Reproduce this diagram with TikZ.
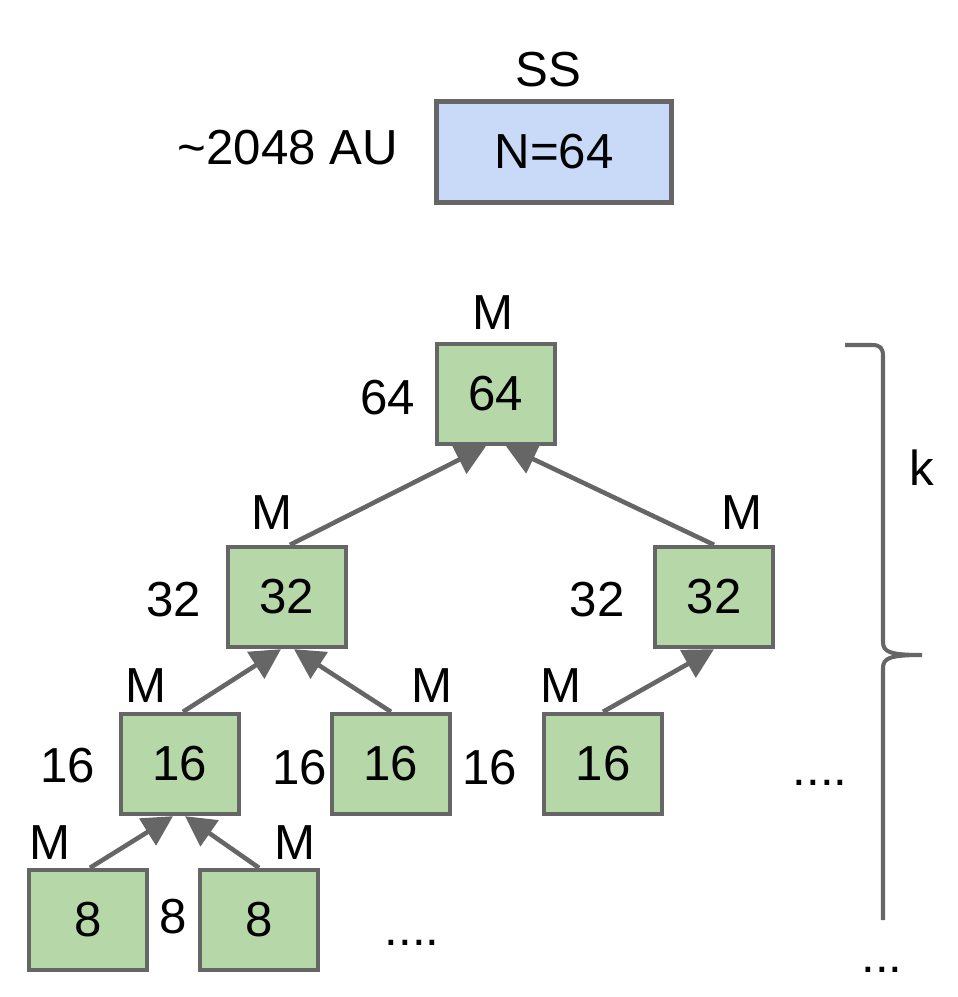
\documentclass[tikz,border=0pt]{standalone}
\usepackage{fontspec}
\setmainfont{Liberation Sans}
\usetikzlibrary{arrows.meta,positioning}
\definecolor{boxgreen}{HTML}{B6D7A8}
\definecolor{boxblue}{HTML}{C9DAF8}
\definecolor{edgegray}{HTML}{666666}

\begin{document}
\begin{tikzpicture}[
    x=0.02cm, y=-0.02cm,
    every node/.style={font=\fontsize{28}{33}\selectfont},
    mbox/.style={draw=edgegray, line width=2.5pt, fill=boxgreen,
        minimum width=2.36cm, minimum height=2cm, inner sep=0pt},
    up/.style={draw=edgegray, line width=2.6pt,
        -{Triangle[length=0.6cm,width=0.62cm]}}
]
    \useasboundingbox (0,0) rectangle (957,997);

    % SS box on top
    \node[draw=edgegray, line width=2.5pt, fill=boxblue, minimum width=4.7cm,
        minimum height=2.02cm, inner sep=0pt] (ss) at (554,152) {N=64};
    \node (sslab) at (548,70) {SS};
    \node (au) at (288,148) {\char`~2048 AU};

    % merge tree, one row per level
    \node[mbox] (m64) at (496,394) {64};
    \node[mbox] (m32a) at (287,597) {32};
    \node[mbox] (m32b) at (714,597) {32};
    \node[mbox] (m16a) at (180,764) {16};
    \node[mbox] (m16b) at (391,764) {16};
    \node[mbox] (m16c) at (603,764) {16};
    \node[mbox] (m8a) at (88,920) {8};
    \node[mbox] (m8b) at (259,920) {8};

    % M and size labels
    \node (l64) at (493,313) {M};
    \node (s64) at (388,398) {64};
    \node (l32a) at (272,513) {M};
    \node (s32a) at (174,600) {32};
    \node (l32b) at (742,513) {M};
    \node (s32b) at (597,600) {32};
    \node (l16a) at (146,686) {M};
    \node (s16a) at (68,766) {16};
    \node (l16b) at (432,686) {M};
    \node (s16b) at (300,768) {16};
    \node (l16c) at (561,686) {M};
    \node (s16c) at (490,768) {16};
    \node (l8a) at (50,843) {M};
    \node (l8b) at (295,843) {M};
    \node (s8) at (173,917) {8};
    \node (dots16) at (820,783) {....};
    \node (dots8) at (412,943) {....};
    \node (dotsk) at (882,970) {...};

    % arrows go up to the parent
    \draw[up] ([xshift=0.06cm]m32a.north) -- ([xshift=-0.2cm]m64.south);
    \draw[up] (m32b.north) -- ([xshift=0.2cm]m64.south);
    \draw[up] ([xshift=0.06cm]m16a.north) -- ([xshift=-0.12cm]m32a.south);
    \draw[up] (m16b.north) -- ([xshift=0.14cm]m32a.south);
    \draw[up] (m16c.north) -- (m32b.south);
    \draw[up] ([xshift=0.04cm]m8a.north) -- ([xshift=-0.14cm]m16a.south);
    \draw[up] (m8b.north) -- ([xshift=0.1cm]m16a.south);

    % brace for k
    \draw[edgegray, line width=2.3pt]
        (845,345) -- (872,345) .. controls (880,345) and (883,348) .. (883,356)
        -- (883,642) .. controls (883,652) and (890,655) .. (922,655)
        .. controls (890,655) and (883,658) .. (883,668) -- (883,920);
    \node (k) at (922,468) {k};
\end{tikzpicture}
\end{document}
